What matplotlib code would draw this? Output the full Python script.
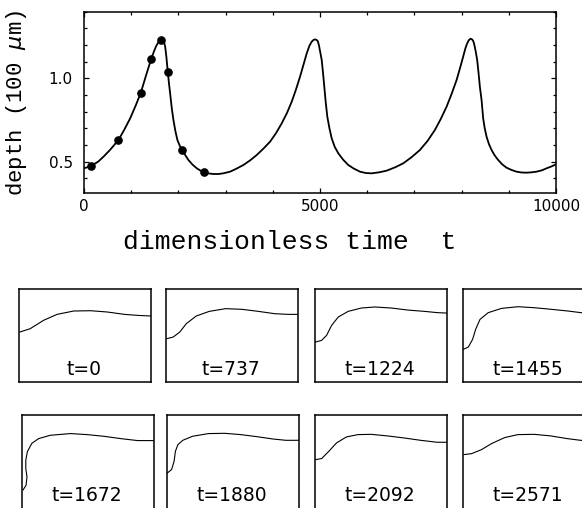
import numpy as np
import matplotlib
matplotlib.use('Agg')
import matplotlib.pyplot as plt
from matplotlib.ticker import MultipleLocator, FormatStrFormatter

# depth of the cavity vs. dimensionless time
time = [0, 146, 300, 413, 550, 730, 850, 978, 1100, 1204, 1317, 1423, 1480,
        1529, 1570, 1600, 1630, 1655, 1680, 1700, 1720, 1745, 1776, 1800, 1825,
        1860, 1895, 1935, 1979, 2030, 2085, 2150, 2212, 2300, 2390, 2470, 2551,
        2650, 2741, 2850, 2950, 3095, 3230, 3377, 3520, 3660, 3800, 3942, 4070,
        4189, 4300, 4401, 4490, 4577, 4650, 4719, 4775, 4824, 4860, 4894, 4930,
        4955, 4980, 5010, 5036, 5065, 5091, 5120, 5155, 5200, 5248, 5310, 5388,
        5490, 5599, 5720, 5847, 5970, 6095, 6250, 6412, 6590, 6764, 6940, 7117,
        7280, 7434, 7560, 7682, 7790, 7894, 7970, 8033, 8080, 8118, 8155, 8190,
        8225, 8250, 8275, 8300, 8330, 8360, 8387, 8423, 8457, 8490, 8529, 8580,
        8635, 8700, 8775, 8860, 8952, 9060, 9164, 9270, 9376, 9480, 9587, 9700,
        9799, 9900, 10000]
depth = [0.460, 0.474, 0.500, 0.530, 0.570, 0.630, 0.690, 0.760, 0.840, 0.914,
         1.020, 1.116, 1.160, 1.194, 1.214, 1.225, 1.230, 1.230, 1.225, 1.214,
         1.190, 1.130, 1.036, 0.970, 0.910, 0.820, 0.750, 0.685, 0.630, 0.595,
         0.570, 0.537, 0.510, 0.482, 0.460, 0.446, 0.436, 0.429, 0.426, 0.426,
         0.430, 0.440, 0.458, 0.480, 0.508, 0.540, 0.578, 0.620, 0.672, 0.730,
         0.792, 0.860, 0.932, 1.010, 1.082, 1.150, 1.195, 1.220, 1.230, 1.234,
         1.230, 1.222, 1.195, 1.150, 1.110, 1.030, 0.950, 0.860, 0.770, 0.700,
         0.640, 0.590, 0.550, 0.512, 0.480, 0.458, 0.440, 0.432, 0.430, 0.436,
         0.446, 0.466, 0.490, 0.527, 0.570, 0.625, 0.690, 0.757, 0.830, 0.908,
         0.990, 1.065, 1.130, 1.180, 1.210, 1.230, 1.238, 1.233, 1.222, 1.195,
         1.160, 1.110, 1.030, 0.950, 0.870, 0.760, 0.700, 0.650, 0.605, 0.570,
         0.538, 0.510, 0.484, 0.464, 0.450, 0.440, 0.435, 0.434, 0.436, 0.440,
         0.448, 0.460, 0.471, 0.484]

# sampled states marked on the curve
dot_time = [146, 730, 1204, 1423, 1640, 1776, 2085, 2551]
dot_depth = [0.474, 0.630, 0.914, 1.116, 1.228, 1.036, 0.570, 0.436]

# surface profiles at the sampled states (normalised box coordinates)
snap_labels = ['t=0', 't=737', 't=1224', 't=1455',
               't=1672', 't=1880', 't=2092', 't=2571']
prof_0 = [(0.005, 0.536), (0.082, 0.571), (0.184, 0.661), (0.286, 0.725),
          (0.413, 0.761), (0.541, 0.764), (0.668, 0.750), (0.796, 0.725),
          (0.898, 0.714), (1.0, 0.707)]
prof_737 = [(0.007, 0.464), (0.057, 0.482), (0.107, 0.536), (0.156, 0.625),
            (0.231, 0.707), (0.330, 0.757), (0.454, 0.786), (0.578, 0.779),
            (0.702, 0.757), (0.826, 0.732), (0.926, 0.725), (1.0, 0.725)]
prof_1224 = [(0.005, 0.429), (0.050, 0.446), (0.088, 0.500), (0.126, 0.607),
             (0.176, 0.696), (0.251, 0.757), (0.352, 0.793), (0.452, 0.804),
             (0.578, 0.793), (0.704, 0.771), (0.829, 0.757), (0.930, 0.743),
             (1.0, 0.739)]
prof_1455 = [(0.005, 0.350), (0.043, 0.375), (0.075, 0.457), (0.098, 0.564),
             (0.131, 0.671), (0.193, 0.743), (0.294, 0.789), (0.420, 0.807),
             (0.545, 0.796), (0.671, 0.779), (0.796, 0.761), (0.897, 0.743),
             (1.0, 0.730)]
prof_1672 = [(0.010, 0.200), (0.033, 0.250), (0.040, 0.340), (0.031, 0.430),
             (0.031, 0.520), (0.043, 0.610), (0.077, 0.700), (0.128, 0.750),
             (0.217, 0.786), (0.369, 0.804), (0.496, 0.793), (0.623, 0.775),
             (0.751, 0.750), (0.878, 0.729), (1.0, 0.729)]
prof_1880 = [(0.005, 0.382), (0.037, 0.418), (0.056, 0.507), (0.066, 0.614),
             (0.085, 0.686), (0.122, 0.732), (0.195, 0.775), (0.317, 0.804),
             (0.439, 0.807), (0.561, 0.793), (0.683, 0.771), (0.805, 0.746),
             (0.902, 0.732), (1.0, 0.732)]
prof_2092 = [(0.005, 0.525), (0.050, 0.536), (0.100, 0.607), (0.163, 0.704),
             (0.238, 0.768), (0.325, 0.793), (0.425, 0.796), (0.550, 0.779),
             (0.675, 0.757), (0.800, 0.732), (0.925, 0.711), (1.0, 0.711)]
prof_2571 = [(0.005, 0.579), (0.063, 0.589), (0.138, 0.632), (0.213, 0.696),
             (0.313, 0.761), (0.413, 0.793), (0.538, 0.796), (0.663, 0.779),
             (0.788, 0.750), (0.888, 0.732), (1.0, 0.725)]
profiles = [prof_0, prof_737, prof_1224, prof_1455,
            prof_1672, prof_1880, prof_2092, prof_2571]

W, H = 582, 508
fig = plt.figure(figsize=(W / 100., H / 100.), dpi=100)

ax = fig.add_axes([84. / W, 1 - 192.5 / H, 472. / W, 180.8 / H])
ax.plot(time, depth, color='k', lw=1.3, solid_joinstyle='round')
ax.plot(dot_time, dot_depth, 'o', color='k', ms=5.2, clip_on=False)
ax.set_xlim(0, 10000)
ax.set_ylim(0.315, 1.4)
ax.xaxis.set_major_locator(MultipleLocator(5000))
ax.xaxis.set_minor_locator(MultipleLocator(1000))
ax.yaxis.set_major_locator(MultipleLocator(0.5))
ax.yaxis.set_minor_locator(MultipleLocator(0.1))
ax.yaxis.set_major_formatter(FormatStrFormatter('%.1f'))
ax.tick_params(which='both', direction='in', top=True, right=True,
               width=0.9, labelsize=11)
ax.tick_params(which='major', length=3.5)
ax.tick_params(which='minor', length=2.4)
ax.tick_params(axis='x', pad=5)
ax.tick_params(axis='y', pad=8)
for s in ax.spines.values():
    s.set_linewidth(1.1)

fig.text(290. / W, 1 - 242. / H, 'dimensionless time  t', ha='center',
         va='center', family='Liberation Mono', size=19)
fig.text(17. / W, 1 - 103. / H, r'depth (100 $\mu$m)', ha='center',
         va='center', rotation=90, family='Liberation Mono', size=16)

# snapshot boxes, two rows of four
lefts = [[19.3, 165.7, 315.0, 462.7], [21.7, 166.7, 315.0, 463.3]]
tops = [288.7, 415.3]
bw, bh = 132., 93.3
for k, (prof, lab) in enumerate(zip(profiles, snap_labels)):
    r, c = divmod(k, 4)
    iax = fig.add_axes([lefts[r][c] / W, 1 - (tops[r] + bh) / H, bw / W, bh / H])
    px, py = zip(*prof)
    iax.plot(px, py, color='k', lw=0.8, solid_joinstyle='round')
    iax.set_xlim(0, 1)
    iax.set_ylim(0, 1)
    iax.set_xticks([])
    iax.set_yticks([])
    for s in iax.spines.values():
        s.set_linewidth(1.1)
    iax.text(0.49, 0.08, lab, transform=iax.transAxes, ha='center',
             va='baseline', size=13.5)

fig.savefig('out.png', dpi=100)
